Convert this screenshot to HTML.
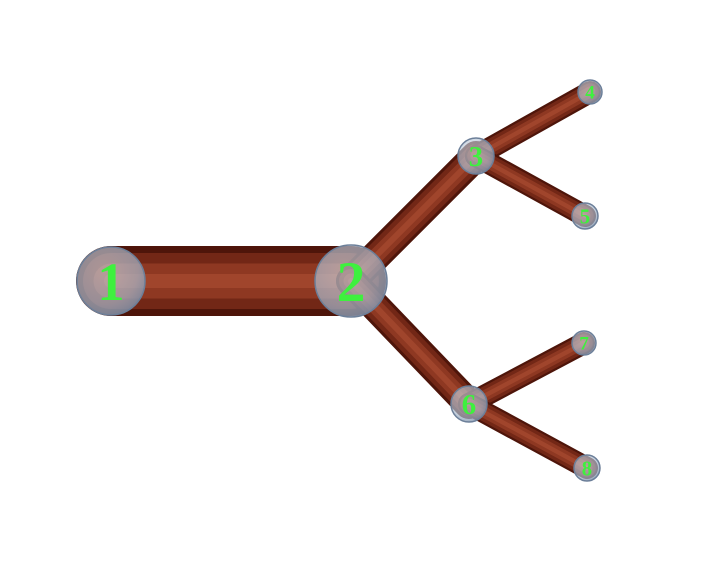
<!DOCTYPE html>
<html><head><meta charset="utf-8"><style>
html,body{margin:0;padding:0;background:#fff;width:705px;height:564px;overflow:hidden}
svg{display:block}
</style></head><body>
<svg id="c" width="705" height="564">
<defs>
<radialGradient id="bub" cx="0.4" cy="0.35" r="0.7">
<stop offset="0" stop-color="#d4dde8" stop-opacity="0.6"/>
<stop offset="0.7" stop-color="#a9b9cc" stop-opacity="0.7"/>
<stop offset="1" stop-color="#7d8fa8" stop-opacity="0.85"/>
</radialGradient>
</defs>
<g id="edges"></g><g id="nodes"></g>
</svg>
<script>
const nodeIds=["1","2","3","4","5","6","7","8"];
const nodeX=[111,351,476,590,585,469,584,587];
const nodeY=[281,281,156,92,216,404,343,468];
const nodeR=[34,36,18,12,13,18,12,13];
const edgeFrom=[0,1,2,2,1,5,5];
const edgeTo=[1,2,3,4,5,6,7];
const edgeWidth=[70,30,22,22,30,22,22];
const NS="http://www.w3.org/2000/svg";
const eg=document.getElementById('edges'),ng=document.getElementById('nodes');
function mk(t,a,p){const e=document.createElementNS(NS,t);for(const k in a)e.setAttribute(k,a[k]);p.appendChild(e);return e;}
edgeFrom.forEach((a,i)=>{
 const b=edgeTo[i];
 const g=mk('g',{},eg);
 
 
 const w=edgeWidth[i];
 mk('line',{x1:nodeX[a],y1:nodeY[a],x2:nodeX[b],y2:nodeY[b],stroke:'#4e150a','stroke-width':w,'stroke-linecap':'round'},g);
 mk('line',{x1:nodeX[a],y1:nodeY[a],x2:nodeX[b],y2:nodeY[b],stroke:'#722716','stroke-width':w*0.8,'stroke-linecap':'round'},g);
 mk('line',{x1:nodeX[a],y1:nodeY[a],x2:nodeX[b],y2:nodeY[b],stroke:'#8e3822','stroke-width':w*0.5,'stroke-linecap':'round'},g);
 mk('line',{x1:nodeX[a],y1:nodeY[a],x2:nodeX[b],y2:nodeY[b],stroke:'#a5492f','stroke-width':w*0.2,'stroke-linecap':'round','opacity':0.8},g);
});
nodeIds.forEach((id,i)=>{
 const g=mk('g',{},ng);
 
 
 mk('circle',{cx:nodeX[i],cy:nodeY[i],r:nodeR[i],fill:'url(#bub)',stroke:'#6c7f99','stroke-width':1.5},g);
 const fs=Math.max(nodeR[i]*1.6,19);
 const t=mk('text',{x:nodeX[i],y:nodeY[i]+fs*0.35,'text-anchor':'middle','font-family':'"Liberation Serif",serif','font-weight':'bold','font-size':fs,fill:'#3ef03e'},g);
 t.textContent=id;
 
 
});
</script>
</body></html>
